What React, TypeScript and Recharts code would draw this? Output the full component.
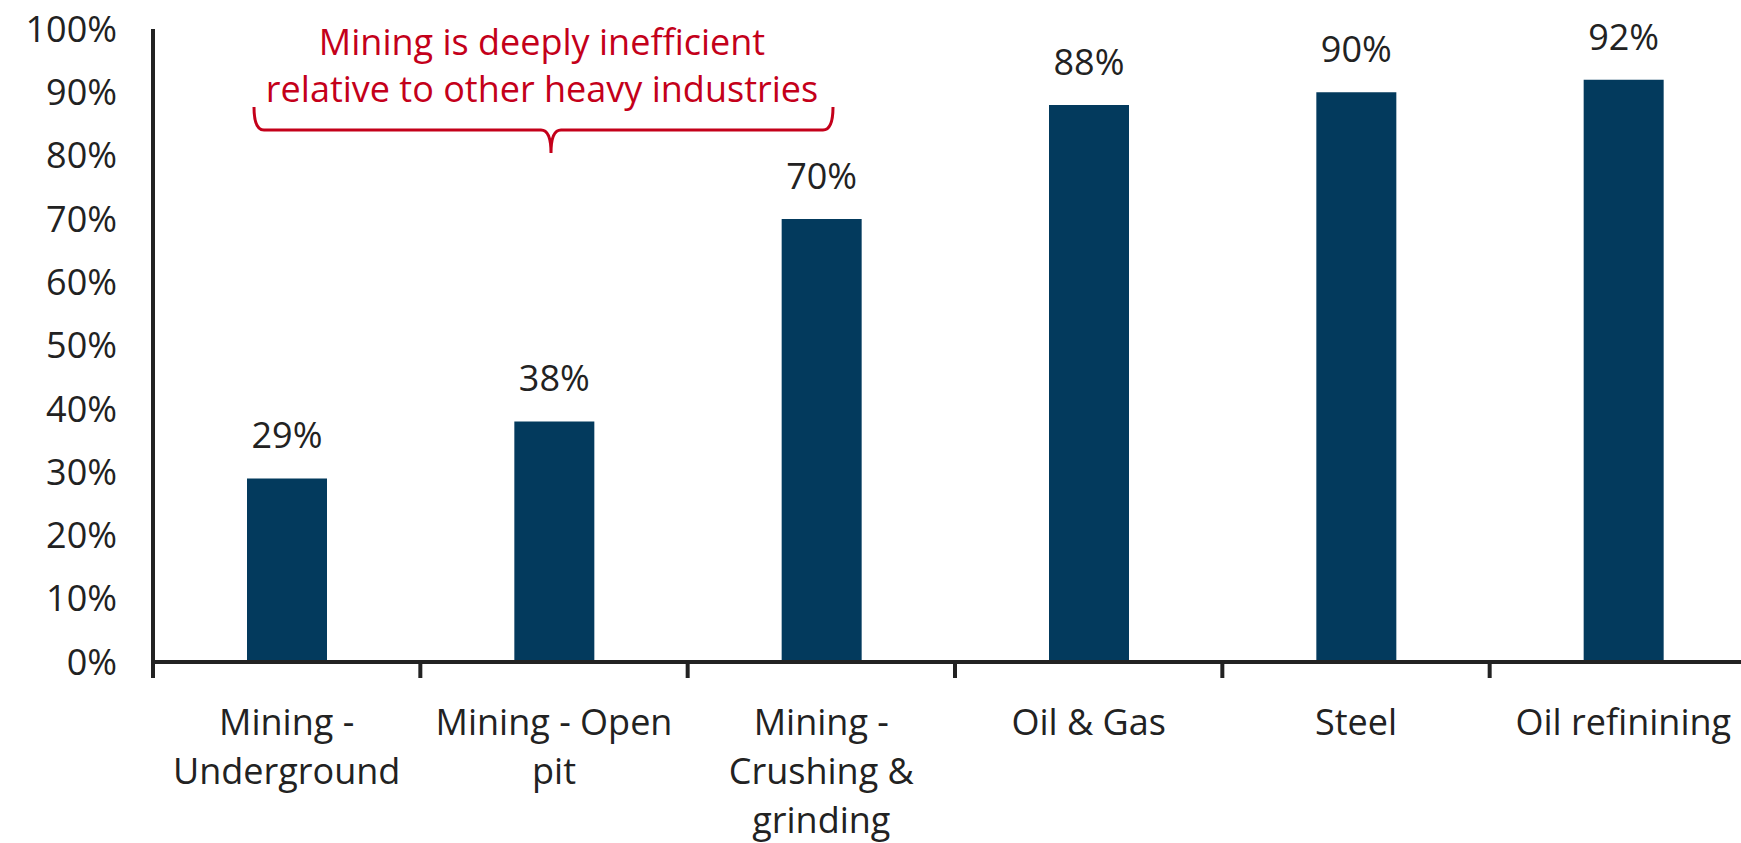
import { BarChart, Bar, XAxis, YAxis, LabelList } from 'recharts'

const categories = [
  'Mining -\nUnderground',
  'Mining - Open\npit',
  'Mining -\nCrushing &\ngrinding',
  'Oil & Gas',
  'Steel',
  'Oil refinining',
]
const efficiency = [29, 38, 70, 88, 90, 92]
const yTicks = [0, 10, 20, 30, 40, 50, 60, 70, 80, 90, 100]
const noteLines = ['Mining is deeply inefficient', 'relative to other heavy industries']

const FONT = "'Open Sans', sans-serif"
const TEXT = '#222222'
const AXIS = '#222222'
const BAR = '#033A5D'
const RED = '#C4001A'

const CHART_W = 1757
const CHART_H = 843
const Y_AXIS_W = 153
const BAND = (CHART_W - Y_AXIS_W) / categories.length

const data = categories.map((name, i) => ({ name, value: efficiency[i] }))

function CategoryTick(props: any) {
  const { x, y, payload } = props
  const lines = String(payload.value).split('\n')
  const bx = x - BAND / 2
  return (
    <g>
      <line x1={bx} y1={y} x2={bx} y2={y + 16} stroke={AXIS} strokeWidth={4} />
      <text textAnchor="middle" fill={TEXT} fontSize={36} fontFamily={FONT}>
        {lines.map((l, i) => (
          <tspan key={i} x={x} y={y + 73 + i * 49}>
            {l}
          </tspan>
        ))}
      </text>
    </g>
  )
}

export default function App() {
  return (
    <div
      style={{
        position: 'fixed',
        left: 0,
        top: 0,
        width: 1741,
        height: 843,
        overflow: 'hidden',
        background: '#fff',
      }}
    >
      <BarChart
        width={CHART_W}
        height={CHART_H}
        data={data}
        margin={{ top: 29, right: 0, left: 0, bottom: 0 }}
      >
        <XAxis
          dataKey="name"
          height={181}
          interval={0}
          tickLine={false}
          tickSize={0}
          tickMargin={0}
          axisLine={{ stroke: AXIS, strokeWidth: 4 }}
          tick={<CategoryTick />}
        />
        <YAxis
          width={Y_AXIS_W}
          domain={[0, 100]}
          ticks={yTicks}
          interval={0}
          tickLine={false}
          tickSize={0}
          tickMargin={36}
          axisLine={{ stroke: AXIS, strokeWidth: 4 }}
          tickFormatter={(v) => `${v}%`}
          tick={{ fill: TEXT, fontSize: 36, fontFamily: FONT }}
        />
        <Bar dataKey="value" fill={BAR} barSize={80} isAnimationActive={false}>
          <LabelList
            dataKey="value"
            position="top"
            offset={30}
            formatter={(v: any) => `${v}%`}
            style={{ fill: TEXT, fontSize: 36, fontFamily: FONT }}
          />
        </Bar>
      </BarChart>
      <svg
        width={1741}
        height={843}
        style={{ position: 'absolute', left: 0, top: 0, pointerEvents: 'none' }}
      >
        <text textAnchor="middle" fill={RED} fontSize={36} fontFamily={FONT}>
          {noteLines.map((l, i) => (
            <tspan key={i} x={542} y={55 + i * 47}>
              {l}
            </tspan>
          ))}
        </text>
        <path
          d="M254 107 Q254 130 264 130 L541 130 Q551 130 551 153 Q551 130 561 130 L823 130 Q833 130 833 107"
          fill="none"
          stroke={RED}
          strokeWidth={3}
        />
      </svg>
    </div>
  )
}
